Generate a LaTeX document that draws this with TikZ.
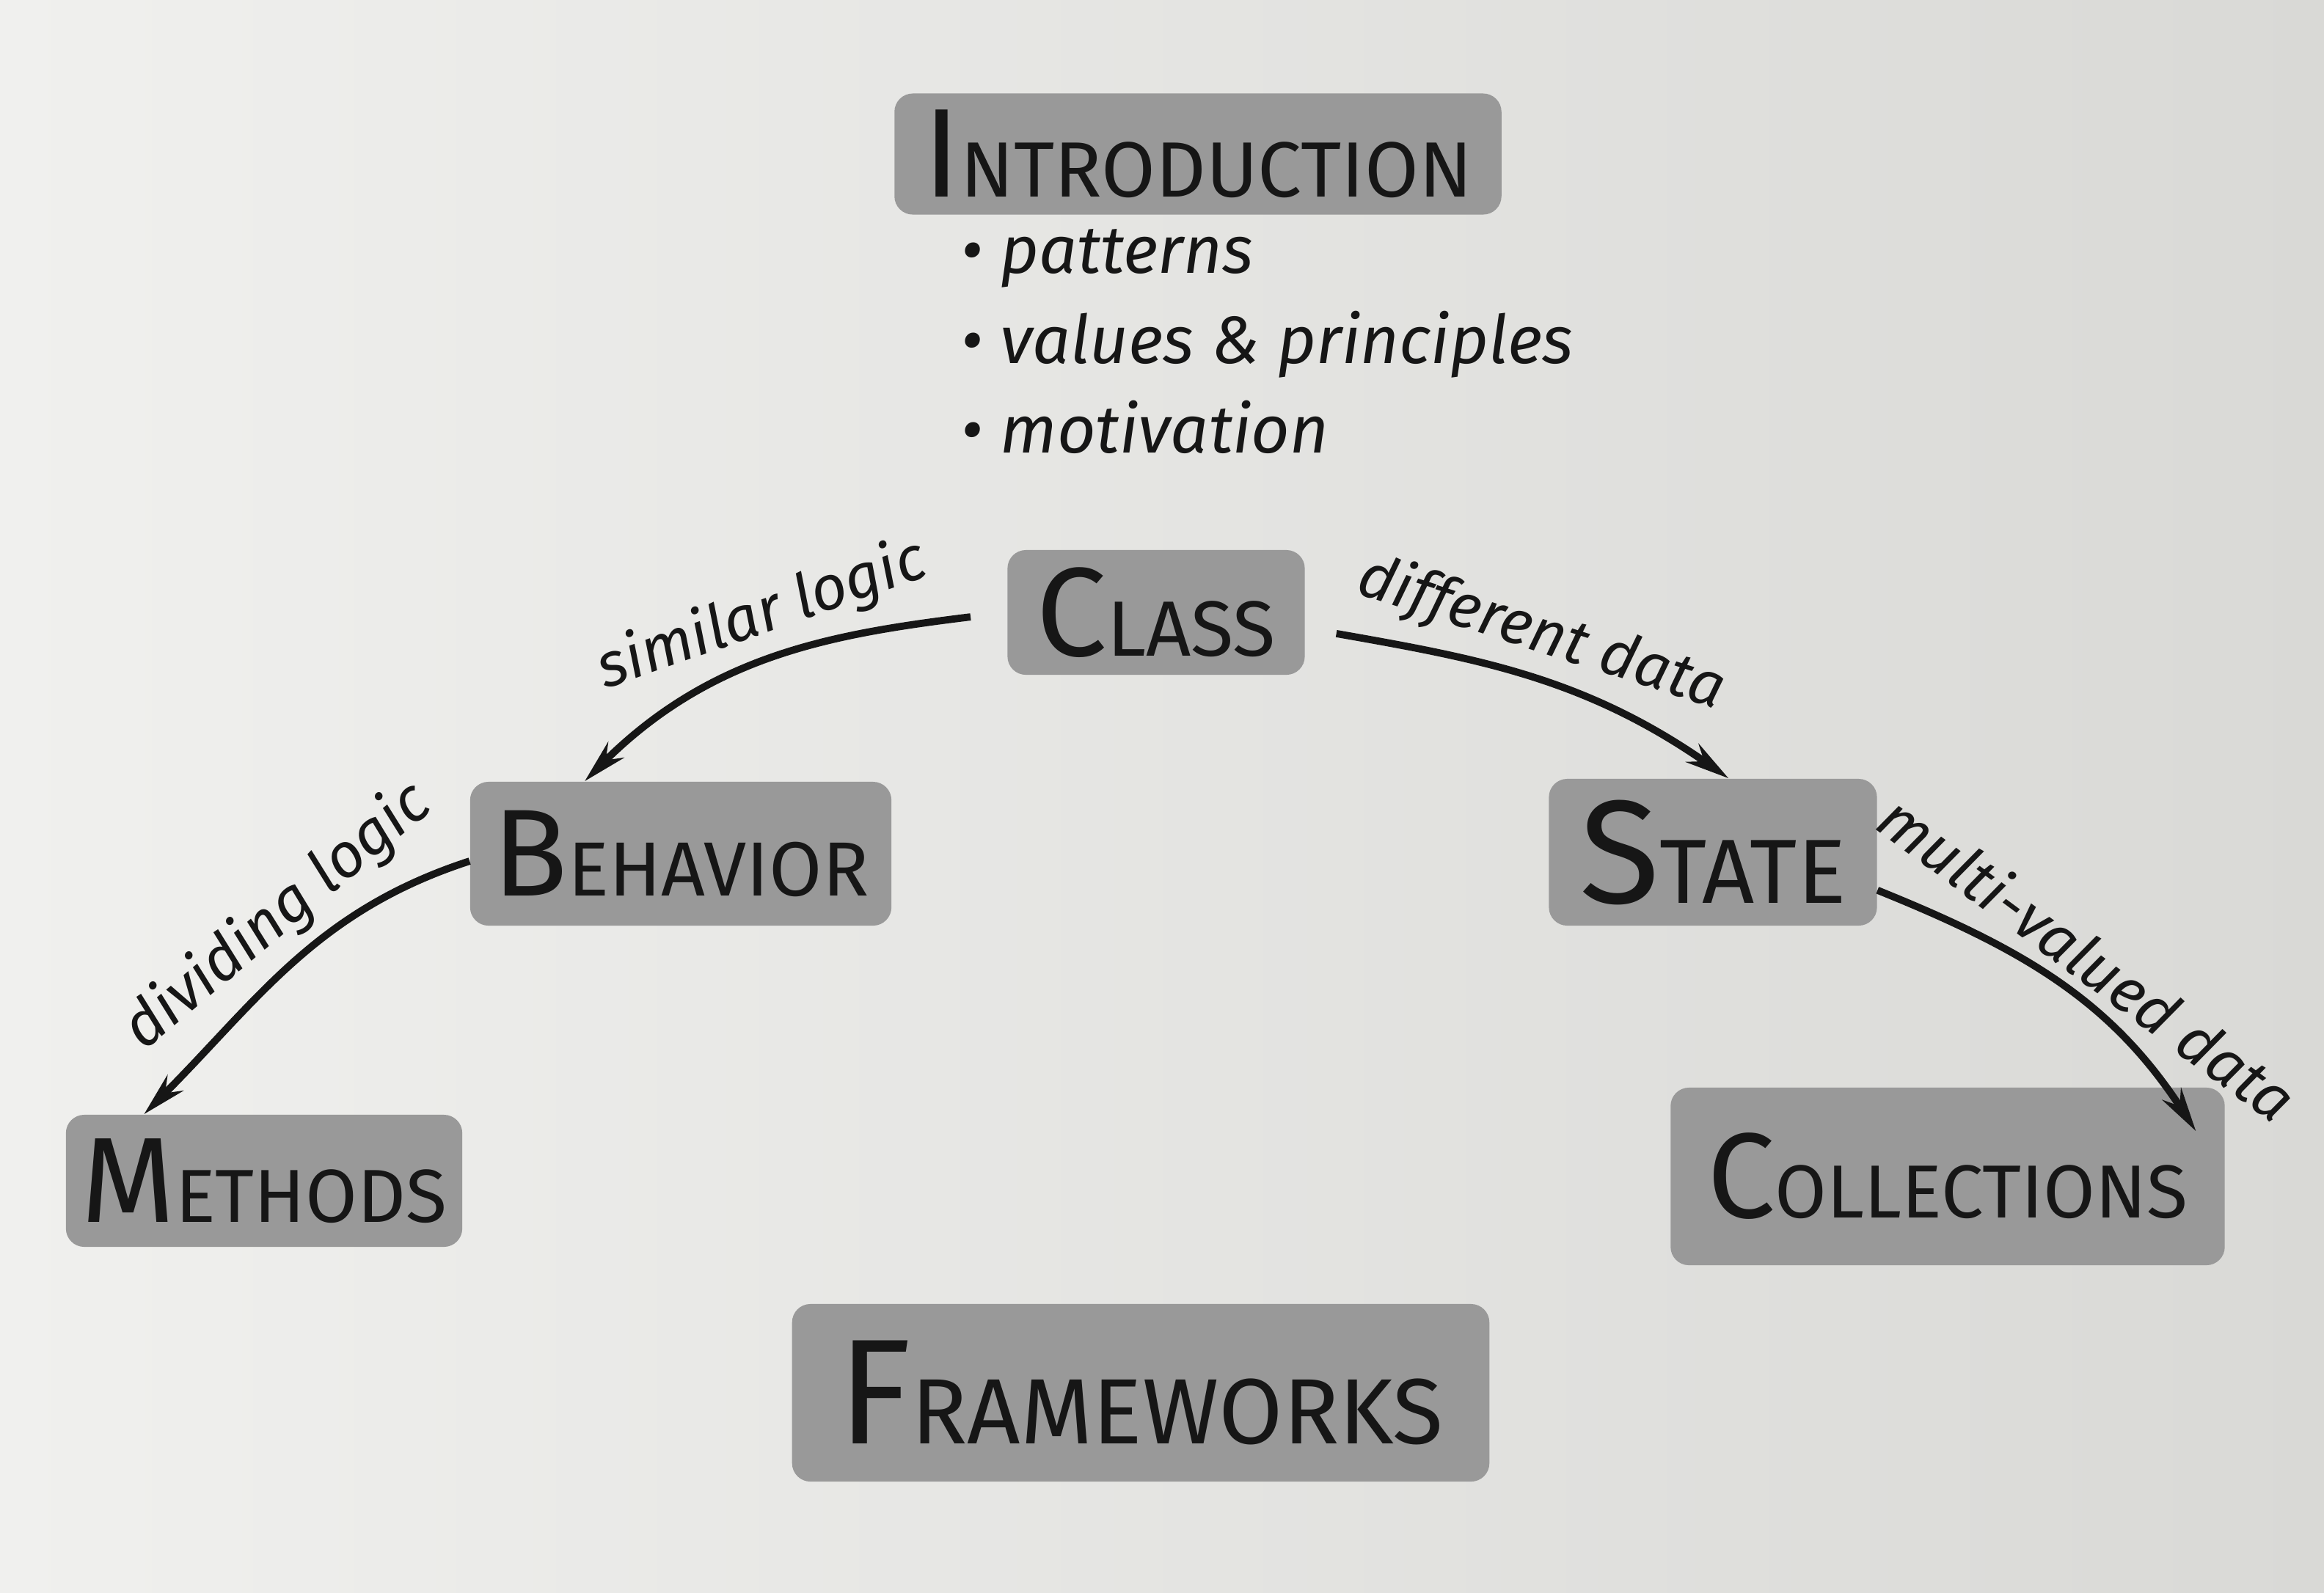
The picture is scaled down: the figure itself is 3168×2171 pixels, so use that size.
\documentclass[tikz,border=0pt]{standalone}
\usepackage{fontspec}
\setmainfont{Fira Sans}
\usepackage{graphicx}
\usetikzlibrary{arrows.meta,shapes,positioning}

\definecolor{paperlight}{HTML}{F0F0EE}
\definecolor{paperdark}{HTML}{D9D9D6}
\definecolor{boxgray}{HTML}{999999}
\definecolor{ink}{HTML}{161616}

% big first letter, smaller capitals after it
\newcommand{\hcap}[2]{#1\scalebox{0.62}{#2}}

\begin{document}
\begin{tikzpicture}[x=0.01cm,y=0.01cm,>={Stealth[length=0.6cm,width=0.3cm]},
	Link/.style={->,ink,line width=2.8pt},
	Topic/.style={rectangle,rounded corners=0.25cm,fill=boxgray,text=ink,inner sep=0pt},
	Note/.style={font=\itshape\fontsize{24}{24}\selectfont,text=ink,inner sep=4pt},
	Item/.style={font=\itshape\fontsize{26}{26}\selectfont,text=ink,inner sep=0pt,anchor=base west},
]
	\shade[left color=paperlight,right color=paperdark] (0,0) rectangle (3168,-2171);
	\useasboundingbox (0,0) rectangle (3168,-2171);

	\node[Topic,minimum width=8.27cm,minimum height=1.65cm,font=\fontsize{49}{49}\selectfont] (intro) at (1633,-210) {\hcap{I}{NTRODUCTION}};
	\node[Item] (patterns) at (1310,-372) {\textbullet\ patterns};
	\node[Item] (values) at (1310,-495) {\textbullet\ values \& principles};
	\node[Item] (motivation) at (1310,-617) {\textbullet\ motivation};

	\node[Topic,minimum width=4.05cm,minimum height=1.7cm,font=\fontsize{49}{49}\selectfont] (class) at (1576,-835) {\hcap{C}{LASS}};
	\node[Topic,minimum width=5.74cm,minimum height=1.96cm,font=\fontsize{48}{48}\selectfont] (behavior) at (928,-1164) {\hcap{B}{EHAVIOR}};
	\node[Topic,minimum width=4.47cm,minimum height=2cm,font=\fontsize{57}{57}\selectfont] (state) at (2335,-1162) {\hcap{S}{TATE}};
	\node[Topic,minimum width=5.4cm,minimum height=1.8cm,font=\fontsize{47}{47}\selectfont] (methods) at (360,-1610) {\hcap{M}{ETHODS}};
	\node[Topic,minimum width=7.55cm,minimum height=2.42cm,font=\fontsize{47}{47}\selectfont] (collections) at (2655,-1604) {\hcap{C}{OLLECTIONS}};
	\node[Topic,minimum width=9.5cm,minimum height=2.42cm,font=\fontsize{58}{58}\selectfont] (frameworks) at (1555,-1899) {\hcap{F}{RAMEWORKS}};

	\path[Link]
	(class.west) edge[out=187,in=45,shorten <=0.5cm] node[Note,sloped,above,pos=0.5]{similar logic} (behavior.143)
	(class.-6) edge[out=-10,in=145,shorten <=0.43cm] node[Note,sloped,above,pos=0.5]{different data} (state.78)
	(behavior.182) edge[out=198,in=45] node[Note,sloped,above,pos=0.45]{dividing logic} (methods.151)
	(state.-13) edge[out=-22,in=123] node[Note,sloped,above,pos=0.52]{multi-valued data} ([xshift=-0.4cm,yshift=-0.6cm]collections.north east)
	;
\end{tikzpicture}
\end{document}
